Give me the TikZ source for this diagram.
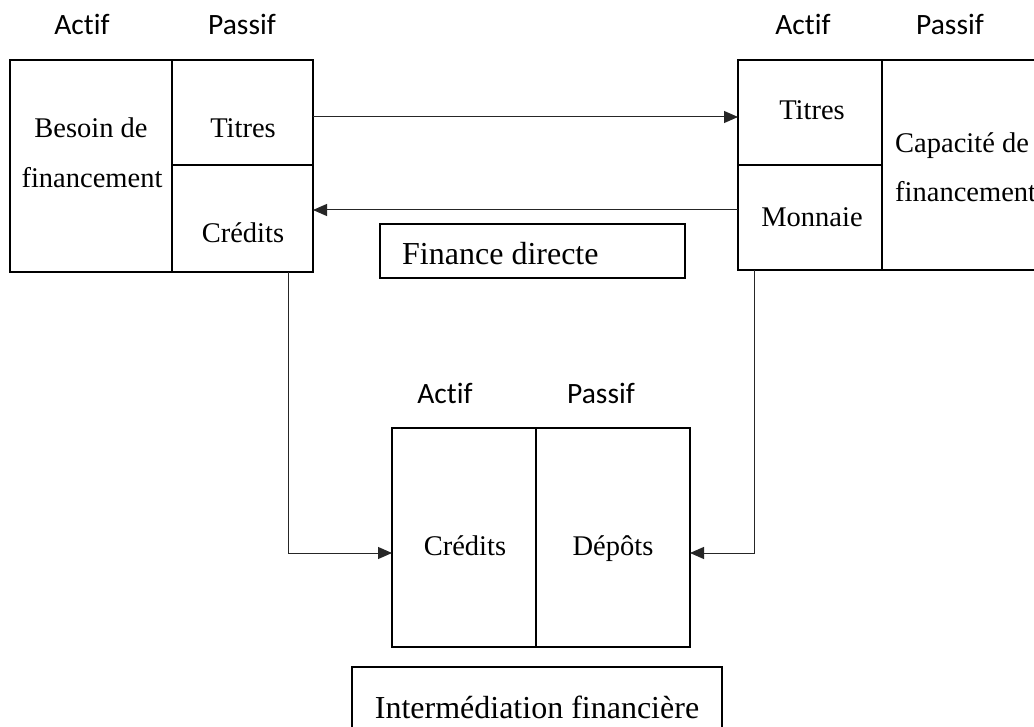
\documentclass[tikz,border=0pt]{standalone}
\usepackage{fontspec}
\setmainfont{Liberation Serif}
\newfontfamily\calib[Ligatures=NoCommon]{Carlito}
\usetikzlibrary{arrows.meta}
\begin{document}
\begin{tikzpicture}[x=1pt,y=-1pt,
  cell/.style={draw=black,line width=1.6pt,inner sep=0pt,outer sep=0pt,anchor=north west,rectangle},
  arr/.style={draw=black!85,line width=1pt,-{Triangle[length=14pt,width=12pt]}},
  lbl/.style={font=\calib\fontsize{29.5}{34}\selectfont,anchor=base,inner sep=0pt},
  txt/.style={font=\fontsize{28.5}{34}\selectfont,anchor=base,inner sep=0pt},
  big/.style={font=\fontsize{32}{38}\selectfont,inner sep=0pt}]
\clip (0,0) rectangle (1034,727);
\fill[white] (0,0) rectangle (1034,727);
% left balance sheet
\node[cell,minimum width=162pt,minimum height=212pt] (lb_act) at (10,60) {};
\node[cell,minimum width=141pt,minimum height=105pt] (lb_tit) at (172,60) {};
\node[cell,minimum width=141pt,minimum height=107pt] (lb_cre) at (172,165) {};
\node[lbl] (la) at (82,35) {Actif};
\node[lbl] (lp) at (242,35) {Passif};
\node[txt] (t_bes) at (91,138) {Besoin de};
\node[txt] (t_fin) at (92,188) {financement};
\node[txt] (t_tit) at (243,138) {Titres};
\node[txt] (t_cre) at (243,243) {Crédits};
% right balance sheet
\node[cell,minimum width=144pt,minimum height=105pt] (rb_tit) at (738,60) {};
\node[cell,minimum width=144pt,minimum height=105pt] (rb_mon) at (738,165) {};
\node[cell,minimum width=170pt,minimum height=210pt] (rb_pas) at (882,60) {};
\node[lbl] (ra) at (803,35) {Actif};
\node[lbl] (rp) at (950,35) {Passif};
\node[txt] (r_tit) at (812,120) {Titres};
\node[txt] (r_mon) at (812,227) {Monnaie};
\node[txt,anchor=base west] (r_cap) at (895,153) {Capacité de};
\node[txt,anchor=base west] (r_fin) at (895,202) {financement};
% finance directe
\node[cell,minimum width=305pt,minimum height=54pt] (fd) at (380,224) {};
\node[big,anchor=base west] (fd_t) at (402,265) {Finance directe};
% intermediary
\node[cell,minimum width=144pt,minimum height=219pt] (mb_cre) at (392,428) {};
\node[cell,minimum width=154pt,minimum height=219pt] (mb_dep) at (536,428) {};
\node[lbl] (ma) at (445,403) {Actif};
\node[lbl] (mp) at (601,403) {Passif};
\node[txt] (m_cre) at (465,555) {Crédits};
\node[txt] (m_dep) at (613,555) {Dépôts};
\node[cell,minimum width=370pt,minimum height=80pt] (im) at (352,667) {};
\node[big,anchor=base] (im_t) at (537,718) {Intermédiation financière};
% connectors
\coordinate (y1) at (0,117);
\coordinate (y2) at (0,210);
\coordinate (y3) at (0,553);
\coordinate (x1) at (288,0);
\coordinate (x2) at (754,0);
\draw[arr] (lb_tit.east |- y1) -- (rb_tit.west |- y1);
\draw[arr] (rb_mon.west |- y2) -- (lb_cre.east |- y2);
\draw[arr] (lb_cre.south -| x1) |- (mb_cre.west |- y3);
\draw[arr] (rb_mon.south -| x2) |- (mb_dep.east |- y3);
\end{tikzpicture}
\end{document}
